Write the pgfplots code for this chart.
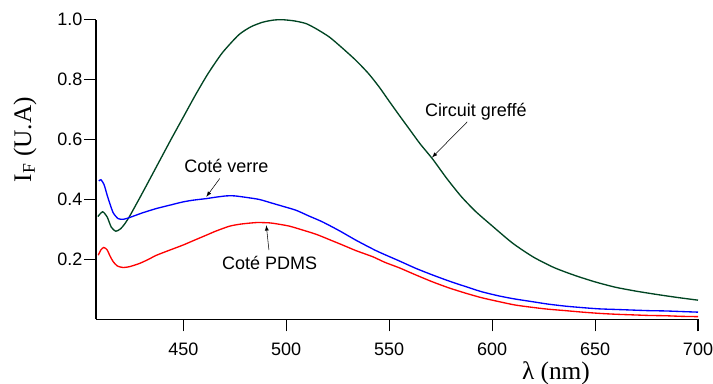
\documentclass[border=0pt]{standalone}
\usepackage{fontspec}
\setmainfont{Liberation Sans}
\newfontfamily\seriffont{Liberation Serif}
\usepackage{pgfplots}
\pgfplotsset{compat=1.18}
\definecolor{dkgreen}{RGB}{0,68,34}
\begin{document}
\fontsize{13.5}{16}\selectfont
\begin{tikzpicture}
\begin{axis}[
  name=ax,
  scale only axis,
  width=451.5pt, height=224.7pt,
  xmin=407.6, xmax=700, ymin=0, ymax=1.0,
  axis lines=left,
  axis line style={-, line width=0.9pt},
  tick align=outside,
  major tick length=9pt,
  tick style={line width=0.8pt, black},
  xtick={450,500,550,600,650,700},
  ytick={0.2,0.4,0.6,0.8,1.0},
  yticklabel style={/pgf/number format/fixed, /pgf/number format/precision=1, /pgf/number format/fixed zerofill, inner sep=1pt},
  xticklabel style={yshift=-4pt},
  /pgf/number format/assume math mode=true,
  ticklabel style={font=\fontsize{13.5}{16}\selectfont},
  clip=false,
]
\addplot[dkgreen, line width=1pt, smooth, tension=0.4] coordinates {
(408.5,0.343) (410.8,0.359) (413,0.342) (415,0.308) (417.2,0.294) (419.5,0.302) (421.5,0.318) (424,0.345) (430,0.42) (437,0.51) (444,0.60) (450,0.675) (456,0.75) (462,0.82) (469,0.89) (477,0.95) (483,0.977) (488.7,0.992) (494,0.999) (498.4,1.0) (504,0.996) (509.7,0.987) (515,0.968) (521,0.942) (527,0.907) (533.9,0.864) (540,0.82) (545.2,0.775) (550,0.728) (555,0.68) (560,0.633) (565,0.586) (571.1,0.535) (578,0.47) (585,0.41) (592,0.36) (600,0.312) (610,0.254) (620,0.208) (630,0.173) (640,0.147) (650,0.125) (660,0.107) (670,0.094) (680,0.083) (690,0.073) (700,0.064)
};
\addplot[blue, line width=1pt, smooth, tension=0.4] coordinates {
(409,0.462) (410,0.466) (411.5,0.45) (413,0.415) (414.3,0.387) (416,0.355) (418.4,0.336) (421,0.334) (424,0.34) (430,0.355) (437,0.37) (444,0.382) (449.9,0.392) (455,0.398) (461.2,0.403) (466,0.408) (470.9,0.412) (475,0.412) (480.6,0.407) (487,0.4) (493.5,0.387) (499,0.376) (504.8,0.364) (511,0.345) (517.7,0.325) (526,0.295) (533.9,0.264) (544,0.228) (554.9,0.195) (563,0.17) (571.1,0.148) (579,0.128) (587.3,0.109) (595,0.092) (603.4,0.078) (611,0.068) (619.5,0.059) (627,0.051) (635.7,0.044) (644,0.039) (651.9,0.035) (660,0.033) (668,0.031) (676,0.029) (684.2,0.028) (692,0.026) (700,0.024)
};
\addplot[red, line width=1pt, smooth, tension=0.4] coordinates {
(408.7,0.214) (410,0.232) (411.4,0.24) (413,0.232) (414.5,0.21) (416,0.192) (418,0.178) (420.8,0.173) (424,0.176) (428.9,0.187) (433,0.2) (437,0.214) (443,0.23) (449.9,0.248) (455,0.263) (461.2,0.281) (466,0.295) (472.5,0.311) (478,0.318) (485.5,0.323) (491.9,0.322) (496,0.318) (501.6,0.311) (508,0.298) (514.5,0.284) (521,0.266) (527.4,0.248) (534,0.229) (542,0.209) (548,0.19) (554.9,0.172) (563,0.148) (571.1,0.125) (579,0.105) (587.3,0.087) (595,0.072) (603.4,0.059) (611,0.048) (619.5,0.04) (627,0.034) (635.7,0.029) (644,0.024) (651.9,0.02) (660,0.017) (668,0.015) (676,0.013) (684.2,0.012) (692,0.01) (700,0.009)
};
\node[font=\fontsize{13.5}{16}\selectfont] at (axis cs:592.1,0.692) {Circuit greffé};
\draw[-latex, thin] (axis cs:587.9,0.659) -- (axis cs:570.8,0.540);
\node[font=\fontsize{13.5}{16}\selectfont] at (axis cs:470.9,0.511) {Coté verre};
\draw[-latex, thin] (axis cs:467.7,0.470) -- (axis cs:461.2,0.409);
\node[font=\fontsize{13.5}{16}\selectfont] at (axis cs:491.9,0.189) {Coté PDMS};
\draw[-latex, thin] (axis cs:491.6,0.231) -- (axis cs:490.3,0.314);
\node[font=\seriffont\fontsize{19}{22}\selectfont, rotate=90] at ([xshift=-53.25pt]axis cs:407.6,0.6) {I\textsubscript{F} (U.A)};
\node[font=\seriffont\fontsize{19}{22}\selectfont] at ([yshift=-40.3pt]axis cs:631,0) {λ (nm)};
\end{axis}
\pgfresetboundingbox
\path[use as bounding box] ([xshift=-72pt,yshift=-47.8pt]ax.south west) rectangle ([xshift=11.25pt,yshift=14.8pt]ax.north east);
\end{tikzpicture}
\end{document}
